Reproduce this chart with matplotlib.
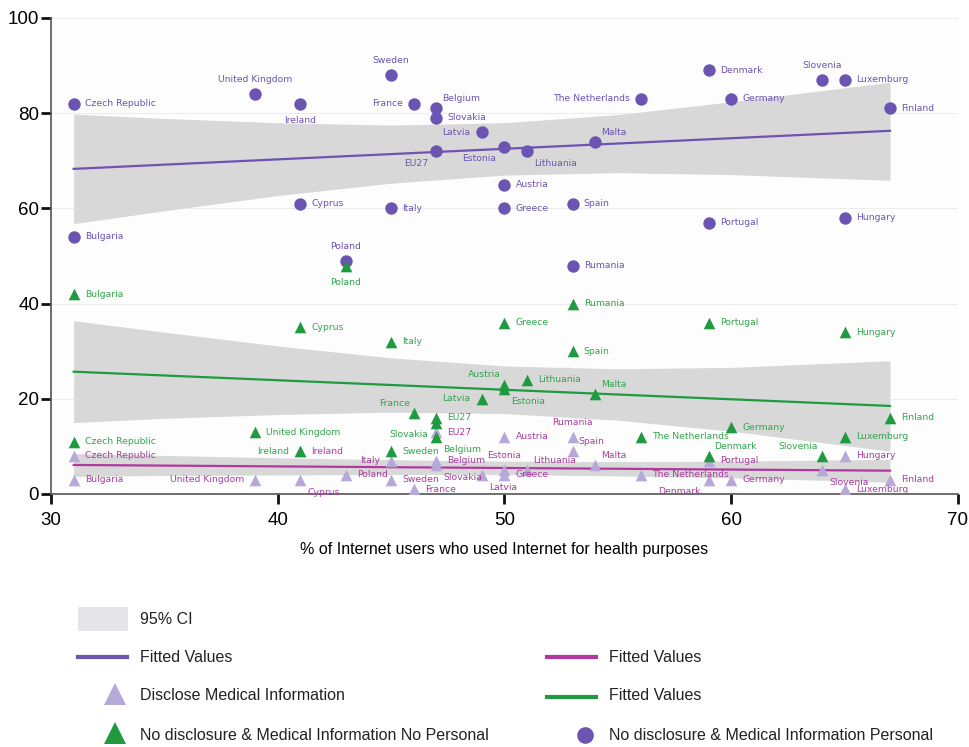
import matplotlib
matplotlib.use("Agg")
import matplotlib.pyplot as plt
from matplotlib.patches import Rectangle
from matplotlib.lines import Line2D

# ---- data -------------------------------------------------------------
countries = ["Bulgaria", "Czech Republic", "United Kingdom", "Ireland", "Cyprus",
             "Poland", "Sweden", "Italy", "France", "Belgium", "Slovakia", "EU27",
             "Latvia", "Estonia", "Austria", "Greece", "Lithuania", "Spain",
             "Rumania", "Malta", "The Netherlands", "Denmark", "Portugal",
             "Germany", "Slovenia", "Hungary", "Luxemburg", "Finland"]
internet_health = [31, 31, 39, 41, 41, 43, 45, 45, 46, 47, 47, 47, 49, 50, 50, 50,
                   51, 53, 53, 54, 56, 59, 59, 60, 64, 65, 65, 67]
personal = [54, 82, 84, 82, 61, 49, 88, 60, 82, 81, 79, 72, 76, 73, 65, 60, 72,
            61, 48, 74, 83, 89, 57, 83, 87, 58, 87, 81]
no_personal = [42, 11, 13, 9, 35, 48, 9, 32, 17, 12, 15, 16, 20, 22, 23, 36, 24,
               30, 40, 21, 12, 8, 36, 14, 8, 34, 12, 16]
disclose = [3, 8, 3, 9, 3, 4, 3, 7, 1, 7, 6, 13, 4, 5, 12, 4, 5, 9, 12, 6, 4, 3,
            7, 3, 5, 8, 1, 3]

# fitted values and 95% confidence bands
fit_x = [31, 67]
fit_personal = [68.3, 76.3]
fit_no_personal = [25.7, 18.5]
fit_disclose = [6.1, 4.9]

ci_x = [31, 35, 40, 45, 50, 55, 60, 67]
ci_personal_lo = [56.8, 59.5, 62.7, 65.3, 67.0, 67.5, 67.1, 65.9]
ci_personal_hi = [79.8, 78.9, 78.0, 77.5, 78.0, 79.7, 82.4, 86.5]
ci_no_personal_lo = [15.0, 15.9, 16.7, 17.2, 16.9, 15.5, 13.2, 9.0]
ci_no_personal_hi = [36.4, 34.0, 31.1, 28.6, 26.9, 26.3, 26.6, 28.0]
ci_disclose_lo = [3.7, 3.9, 4.0, 4.1, 4.1, 3.8, 3.4, 2.5]
ci_disclose_hi = [8.5, 8.1, 7.6, 7.2, 6.9, 6.8, 6.9, 7.3]

x_ticks = [30, 40, 50, 60, 70]
y_ticks = [0, 20, 40, 60, 80, 100]
x_label = "% of Internet users who used Internet for health purposes"

# ---- label placement (direction of each country label) ------------------
place_personal = {"United Kingdom": "n", "Ireland": "s", "Poland": "n", "Sweden": "n",
                  "France": "w", "Belgium": "ne", "EU27": "sw", "Latvia": "w",
                  "Estonia": "sw", "Lithuania": "se", "Malta": "ne",
                  "The Netherlands": "w", "Slovenia": "n"}
place_no_personal = {"Ireland": "w", "Poland": "s", "France": "nw", "Belgium": "se",
                     "Slovakia": "sw", "Latvia": "w", "Estonia": "se", "Austria": "nw",
                     "Malta": "ne", "Denmark": "ne", "Slovenia": "nw"}
place_disclose = {"United Kingdom": "w", "Cyprus": "se", "Italy": "w", "Slovakia": "se",
                  "Latvia": "se", "Estonia": "n", "Lithuania": "ne", "Rumania": "n",
                  "Spain": "ne", "Malta": "ne", "Denmark": "sw", "Slovenia": "se"}
offsets = {"e": (8, 0, "left"), "w": (-8, 0, "right"), "n": (0, 10.5, "center"),
           "s": (0, -12, "center"), "ne": (4, 7, "left"), "se": (5, -9, "left"),
           "nw": (-3, 7, "right"), "sw": (-6, -8.5, "right")}

# ---- colours ------------------------------------------------------------
C_PERS = "#6b54b2"
C_GREEN = "#1f9a3f"
C_GREEN_TXT = "#34a44d"
C_LIGHT = "#b6a8d8"
C_MAG = "#a83ea0"
C_MAG_LINE = "#b0389f"
C_CI = "#d8d8d8"

SANS = ["Liberation Sans", "DejaVu Sans"]

fig = plt.figure(figsize=(9.70, 7.47), dpi=100)
ax = fig.add_axes([51 / 970, 1 - 494 / 747, 907 / 970, 476 / 747])

# confidence bands
ax.fill_between(ci_x, ci_personal_lo, ci_personal_hi, color=C_CI, lw=0, zorder=1)
ax.fill_between(ci_x, ci_no_personal_lo, ci_no_personal_hi, color=C_CI, lw=0, zorder=1)
ax.fill_between(ci_x, ci_disclose_lo, ci_disclose_hi, color=C_CI, lw=0, zorder=1)

# fitted lines
ax.plot(fit_x, fit_personal, color=C_PERS, lw=1.6, zorder=2)
ax.plot(fit_x, fit_no_personal, color=C_GREEN, lw=1.6, zorder=2)
ax.plot(fit_x, fit_disclose, color=C_MAG_LINE, lw=1.6, zorder=2)

# points
ax.scatter(internet_health, personal, s=80, marker="o", color=C_PERS, lw=0, zorder=3)
ax.scatter(internet_health, disclose, s=70, marker="^", color=C_LIGHT, lw=0, zorder=4)
ax.scatter(internet_health, no_personal, s=70, marker="^", color=C_GREEN, lw=0, zorder=5)


def label_points(values, placement, color):
    for name, xv, yv in zip(countries, internet_health, values):
        dx, dy, ha = offsets[placement.get(name, "e")]
        ax.annotate(name, (xv, yv), xytext=(dx, dy), textcoords="offset points",
                    ha=ha, va="center", fontsize=6.7, color=color, zorder=6)


label_points(personal, place_personal, C_PERS)
label_points(no_personal, place_no_personal, C_GREEN_TXT)
label_points(disclose, place_disclose, C_MAG)

# axes styling
ax.set_xlim(30, 70)
ax.set_ylim(0, 100)
ax.set_xticks(x_ticks)
ax.set_yticks(y_ticks)
ax.set_xticklabels([str(v) for v in x_ticks], family=SANS, fontsize=13.5)
ax.set_yticklabels([str(v) for v in y_ticks], family=SANS, fontsize=13.5)
ax.tick_params(axis="both", direction="out", length=7, width=2, color="#111111")
ax.tick_params(axis="x", pad=6)
ax.tick_params(axis="y", pad=1.5)
ax.set_xlabel(x_label, family=SANS, fontsize=11.5, labelpad=9)
for side in ("top", "right"):
    ax.spines[side].set_visible(False)
for side in ("left", "bottom"):
    ax.spines[side].set_color("#555555")
    ax.spines[side].set_linewidth(1.2)
ax.set_axisbelow(True)
ax.grid(axis="y", color="#ececec", lw=0.8)
ax.set_facecolor("#fdfdfd")

# ---- legend ---------------------------------------------------------------
lg = fig.add_axes([0, 0, 1, 1])
lg.set_xlim(0, 970)
lg.set_ylim(747, 0)
lg.axis("off")
lg.patch.set_alpha(0)

lg.add_patch(Rectangle((78, 607), 50, 24, color="#e5e5e7", lw=0))
lg.add_line(Line2D([78, 127], [657, 657], color=C_PERS, lw=3))
lg.add_line(Line2D([547, 596], [657, 657], color=C_MAG_LINE, lw=3))
lg.add_line(Line2D([547, 596], [697, 697], color=C_GREEN, lw=3))
lg.plot([115], [694], marker="^", ms=16, color=C_LIGHT, mew=0)
lg.plot([115], [733], marker="^", ms=16, color=C_GREEN, mew=0)
lg.plot([585], [735], marker="o", ms=12, color=C_PERS, mew=0)

legend_items = [(140, 620, "95% CI"), (140, 657, "Fitted Values"),
                (609, 657, "Fitted Values"), (140, 696, "Disclose Medical Information"),
                (609, 696, "Fitted Values"),
                (140, 735, "No disclosure & Medical Information No Personal"),
                (609, 735, "No disclosure & Medical Information Personal")]
for tx, ty, txt in legend_items:
    lg.text(tx, ty, txt, family=SANS, fontsize=11.5, color="#222222",
            ha="left", va="center")

fig.savefig("out.png", dpi=100)
